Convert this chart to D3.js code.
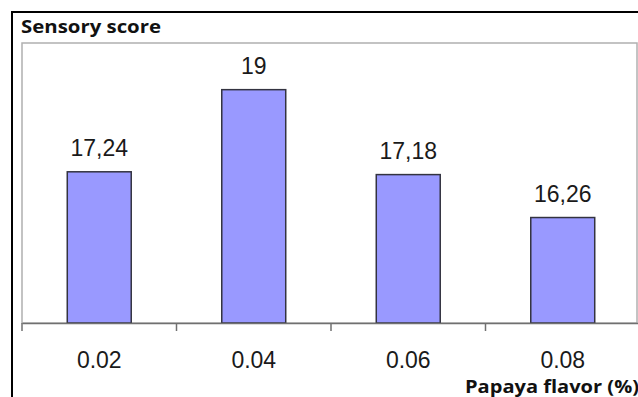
<!DOCTYPE html>
<html>
<head>
<meta charset="utf-8">
<script src="https://cdn.jsdelivr.net/npm/d3@7"></script>
<style>
  html, body { margin: 0; padding: 0; background: #fff; }
  svg { display: block; }
</style>
</head>
<body>
<svg id="chart" width="638" height="397"></svg>
<script>
const categories = ["0.02", "0.04", "0.06", "0.08"];
const values = [17.24, 19, 17.18, 16.26];
const valueLabels = ["17,24", "19", "17,18", "16,26"];
const yDomain = [14, 20];
const titleText = "Sensory score";
const xTitleText = "Papaya flavor (%)";

const svg = d3.select("#chart");
const plot = { left: 22, top: 43, right: 637, bottom: 323 };

// outer frame
svg.append("rect")
  .attr("x", 12).attr("y", 12)
  .attr("width", 700).attr("height", 500)
  .attr("fill", "none").attr("stroke", "#000").attr("stroke-width", 2);

// plot area frame
svg.append("rect")
  .attr("x", plot.left).attr("y", plot.top)
  .attr("width", plot.right - plot.left).attr("height", plot.bottom - plot.top)
  .attr("fill", "#fff").attr("stroke", "#b0b0b0").attr("stroke-width", 1.5);

const x = d3.scaleBand()
  .domain(categories)
  .range([plot.left, 640])
  .paddingInner(0.586)
  .paddingOuter(0.293);

const y = d3.scaleLinear().domain(yDomain).range([plot.bottom, plot.top]);

// bars
svg.append("g").selectAll("rect")
  .data(values)
  .join("rect")
  .attr("x", (d, i) => x(categories[i]))
  .attr("y", d => y(d))
  .attr("width", x.bandwidth())
  .attr("height", d => y(yDomain[0]) - y(d))
  .attr("fill", "#9999ff")
  .attr("stroke", "#333340")
  .attr("stroke-width", 1.5);

// value labels
svg.append("g").selectAll("text")
  .data(values)
  .join("text")
  .attr("x", (d, i) => x(categories[i]) + x.bandwidth() / 2)
  .attr("y", d => y(d) - 16)
  .attr("text-anchor", "middle")
  .attr("font-family", "Liberation Sans, Arial, sans-serif")
  .attr("font-size", 23)
  .attr("fill", "#1a1a1a")
  .text((d, i) => valueLabels[i]);

// x axis
const step = x.step();
const xAxis = d3.axisBottom(x).tickSize(0).tickPadding(0);
const gx = svg.append("g").attr("transform", `translate(0,${plot.bottom})`).call(xAxis);
gx.select(".domain").attr("stroke", "#707070").attr("stroke-width", 1.5);
gx.selectAll(".tick text")
  .attr("dy", null)
  .attr("y", 45)
  .attr("font-family", "Liberation Sans, Arial, sans-serif")
  .attr("font-size", 23)
  .attr("fill", "#1a1a1a");
// tick marks between categories
svg.append("g").selectAll("line")
  .data(d3.range(categories.length + 1))
  .join("line")
  .attr("x1", i => plot.left + i * step)
  .attr("x2", i => plot.left + i * step)
  .attr("y1", plot.bottom)
  .attr("y2", plot.bottom + 8)
  .attr("stroke", "#707070")
  .attr("stroke-width", 1.5);

// title
svg.append("text")
  .attr("x", 21).attr("y", 33)
  .attr("font-family", "'Open Sans', Lato, sans-serif")
  .attr("font-weight", 700)
  .attr("font-size", 18)
  .attr("textLength", 140)
  .attr("lengthAdjust", "spacingAndGlyphs")
  .attr("fill", "#111")
  .text(titleText);

// x axis title
svg.append("text")
  .attr("x", 465).attr("y", 393)
  .attr("font-family", "'Open Sans', Lato, sans-serif")
  .attr("font-weight", 700)
  .attr("font-size", 18)
  .attr("textLength", 174)
  .attr("lengthAdjust", "spacingAndGlyphs")
  .attr("fill", "#111")
  .text(xTitleText);
</script>
</body>
</html>
